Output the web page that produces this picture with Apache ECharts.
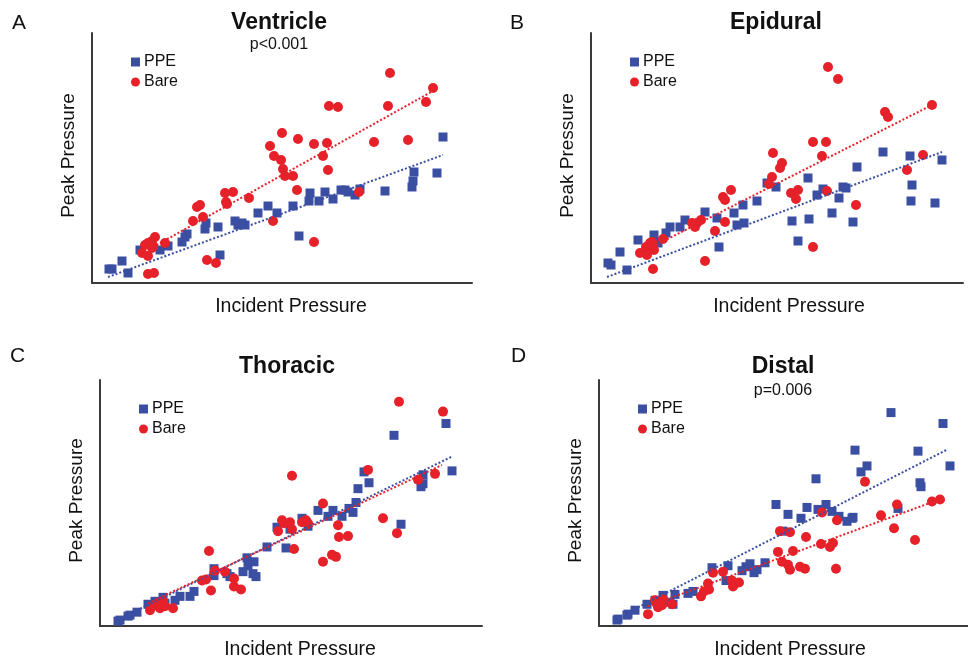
<!DOCTYPE html>
<html>
<head>
<meta charset="utf-8">
<script src="https://cdn.jsdelivr.net/npm/echarts@6/dist/echarts.min.js"></script>
<style>
  html, body { margin: 0; padding: 0; background: #fff; }
  #chart { width: 968px; height: 661px; }
</style>
</head>
<body>
<div id="chart"></div>
<script>
// values, [incident, peak] in arbitrary units
const ventriclePPE = [[17,14],[20,14],[30,22],[36,10],[48,33],[68,33],[76,37],[90,41],[93,46],[95,49],[113,54],[114,60],[126,56],[128,28],[143,62],[146,58],[150,60],[153,58],[166,70],[176,77],[185,70],[201,77],[207,47],[217,82],[218,90],[227,82],[233,91],[241,84],[249,93],[253,93],[256,91],[263,88],[268,94],[293,92],[320,96],[321,102],[322,111],[345,110],[351,146]];
const ventricleBare = [[50,30],[56,27],[53,38],[56,40],[60,42],[63,46],[60,35],[61,37],[73,40],[56,9],[62,10],[101,62],[105,76],[108,78],[111,66],[115,23],[124,20],[133,90],[141,91],[134,81],[135,79],[157,85],[178,137],[182,127],[190,150],[189,123],[191,114],[193,107],[201,107],[181,62],[205,93],[206,144],[222,139],[222,41],[231,127],[235,140],[236,113],[237,177],[246,176],[267,91],[282,141],[296,177],[298,210],[316,143],[334,181],[341,195]];
const epiduralPPE = [[17,20],[20,18],[29,31],[36,13],[47,43],[63,48],[67,40],[75,50],[79,56],[89,56],[94,63],[114,71],[126,65],[128,36],[143,70],[146,58],[152,78],[153,60],[166,82],[176,100],[185,96],[201,62],[207,42],[217,105],[218,64],[226,88],[232,94],[241,70],[248,85],[252,96],[255,95],[262,61],[266,116],[292,131],[319,127],[321,98],[320,82],[344,80],[351,123]];
const epiduralBare = [[49,30],[55,36],[56,28],[59,40],[61,41],[62,36],[63,33],[72,44],[62,14],[101,60],[104,56],[106,60],[110,63],[114,22],[124,52],[132,86],[134,83],[140,93],[134,61],[178,99],[181,106],[182,130],[189,115],[191,120],[200,90],[205,84],[207,93],[222,141],[222,36],[231,127],[235,141],[236,92],[237,216],[247,204],[265,78],[294,171],[297,166],[316,113],[332,128],[341,178]];
const thoracicPPE = [[18,5],[20,6],[28,10],[30,11],[37,14],[48,22],[55,25],[63,29],[65,23],[75,26],[80,30],[90,30],[94,35],[114,58],[114,51],[127,53],[130,50],[143,55],[147,69],[148,61],[153,53],[154,65],[156,50],[167,80],[177,100],[186,79],[190,98],[202,109],[208,101],[218,117],[228,111],[233,117],[242,111],[249,119],[253,115],[256,125],[258,139],[264,156],[269,145],[294,193],[301,103],[321,141],[323,144],[323,153],[346,205],[352,157]];
const thoracicBare = [[50,16],[55,21],[58,23],[60,18],[62,21],[63,25],[65,20],[73,18],[102,46],[106,47],[109,76],[111,36],[115,56],[125,55],[134,48],[134,40],[141,37],[178,96],[182,107],[184,104],[190,105],[192,98],[192,152],[194,78],[202,105],[206,107],[208,104],[223,124],[223,65],[232,72],[236,70],[238,102],[239,90],[248,91],[268,158],[283,109],[297,94],[299,227],[318,148],[335,154],[343,217]];
const distalPPE = [[18,6],[19,7],[28,11],[29,12],[36,16],[48,22],[56,26],[64,31],[71,24],[74,22],[76,32],[89,33],[94,35],[113,59],[127,46],[129,61],[143,56],[147,60],[151,63],[155,54],[158,57],[166,64],[177,123],[184,96],[189,113],[202,109],[208,120],[217,149],[219,118],[227,123],[233,116],[240,111],[248,106],[253,109],[254,110],[256,178],[262,156],[268,162],[292,216],[299,119],[319,177],[321,145],[322,141],[344,205],[351,162]];
const distalBare = [[49,12],[56,26],[58,22],[59,19],[61,24],[63,21],[64,27],[73,22],[102,30],[105,35],[110,37],[109,43],[114,54],[124,55],[133,46],[134,40],[136,43],[140,44],[179,75],[181,96],[183,65],[189,62],[191,57],[191,95],[194,76],[201,60],[206,58],[207,90],[222,83],[223,115],[231,80],[234,84],[237,58],[238,107],[266,146],[282,112],[295,99],[298,123],[316,87],[333,126],[341,128]];

// trend line ends
const ventricleFitPPE = [[16,6],[351,128]];
const ventricleFitBare = [[61,36],[341,192]];
const epiduralFitPPE = [[16,6],[351,131]];
const epiduralFitBare = [[51,31],[341,178]];
const thoracicFitPPE = [[15,5],[353,172]];
const thoracicFitBare = [[48,23],[342,163]];
const distalFitPPE = [[14,6],[349,179]];
const distalFitBare = [[49,20],[343,129]];

const panelTitles = ['Ventricle', 'Epidural', 'Thoracic', 'Distal'];
const panelLetters = ['A', 'B', 'C', 'D'];
const panelPValues = ['p<0.001', '', '', 'p=0.006'];
const seriesNames = ['PPE', 'Bare'];

const BLUE = '#3b4fa2';
const RED = '#e62129';
const FONT = 'Liberation Sans, Arial, sans-serif';

// layout of the four panels (px)
const panels = [
  { left: 92, top: 33, width: 380, height: 250, titleX: 279, letterX: 12, nameShift: 18, ppe: ventriclePPE, bare: ventricleBare, fitP: ventricleFitPPE, fitB: ventricleFitBare },
  { left: 591, top: 33, width: 372, height: 250, titleX: 776, letterX: 510, nameShift: 24, ppe: epiduralPPE, bare: epiduralBare, fitP: epiduralFitPPE, fitB: epiduralFitBare },
  { left: 100, top: 380, width: 382, height: 249, titleX: 287, letterX: 10, nameShift: 18, ppe: thoracicPPE, bare: thoracicBare, fitP: thoracicFitPPE, fitB: thoracicFitBare },
  { left: 599, top: 380, width: 369, height: 249, titleX: 783, letterX: 511, nameShift: 13, ppe: distalPPE, bare: distalBare, fitP: distalFitPPE, fitB: distalFitBare }
];

const grid = [], xAxis = [], yAxis = [], series = [], title = [], legend = [];

panels.forEach((p, i) => {
  grid.push({ left: p.left, top: p.top, width: p.width, height: p.height });

  const lineStyle = { color: '#3a3a3a', width: 2 };
  xAxis.push({
    gridIndex: i, type: 'value', min: 0, max: p.width,
    name: 'Incident Pressure', nameLocation: 'middle', nameGap: 14,
    nameTextStyle: { fontSize: 19.5, color: '#111', fontFamily: FONT, padding: [0, 0, 0, p.nameShift] },
    axisLine: { show: true, onZero: false, lineStyle },
    axisTick: { show: false }, axisLabel: { show: false }, splitLine: { show: false }
  });
  yAxis.push({
    gridIndex: i, type: 'value', min: 0, max: p.height,
    name: 'Peak Pressure', nameLocation: 'middle', nameGap: 14,
    nameTextStyle: { fontSize: 19, color: '#111', fontFamily: FONT, padding: [0, 0, 0, 5] },
    axisLine: { show: true, onZero: false, lineStyle },
    axisTick: { show: false }, axisLabel: { show: false }, splitLine: { show: false }
  });

  series.push({
    name: seriesNames[0], type: 'scatter', xAxisIndex: i, yAxisIndex: i,
    symbol: 'rect', symbolSize: 9, itemStyle: { color: BLUE, opacity: 1 }, data: p.ppe, z: 2
  });
  series.push({
    name: seriesNames[1], type: 'scatter', xAxisIndex: i, yAxisIndex: i,
    symbol: 'circle', symbolSize: 10, itemStyle: { color: RED, opacity: 1 }, data: p.bare, z: 3
  });
  series.push({
    name: 'PPE fit', type: 'line', xAxisIndex: i, yAxisIndex: i, symbol: 'none',
    lineStyle: { color: BLUE, width: 2, type: [2, 2] }, data: p.fitP, z: 4, silent: true
  });
  series.push({
    name: 'Bare fit', type: 'line', xAxisIndex: i, yAxisIndex: i, symbol: 'none',
    lineStyle: { color: RED, width: 2, type: [2, 2] }, data: p.fitB, z: 4, silent: true
  });

  const lower = i >= 2;
  title.push({
    text: panelLetters[i], left: p.letterX, top: lower ? 346 : 13, padding: 0,
    textStyle: { fontSize: 21, fontWeight: 'normal', color: '#111', fontFamily: FONT }
  });
  title.push({
    text: panelTitles[i], left: p.titleX, textAlign: 'center', top: lower ? 355 : 11, padding: 0,
    textStyle: { fontSize: 23, fontWeight: 'bold', color: '#111', fontFamily: FONT }
  });
  if (panelPValues[i]) {
    title.push({
      text: panelPValues[i], left: p.titleX, textAlign: 'center', top: lower ? 383 : 37, padding: 0,
      textStyle: { fontSize: 16, fontWeight: 'normal', color: '#111', fontFamily: FONT }
    });
  }

  legend.push({
    orient: 'vertical', left: p.left + 39, top: p.top + 21, padding: 0,
    itemWidth: 9, itemHeight: 9, itemGap: 4,
    textStyle: { fontSize: 16, color: '#111', fontFamily: FONT, padding: [0, 0, 0, -1] },
    data: [{ name: seriesNames[0], icon: 'rect' }, { name: seriesNames[1], icon: 'circle' }]
  });
});

const myChart = echarts.init(document.getElementById('chart'));
myChart.setOption({
  animation: false,
  backgroundColor: '#fff',
  title, legend, grid, xAxis, yAxis, series
});
</script>
</body>
</html>
